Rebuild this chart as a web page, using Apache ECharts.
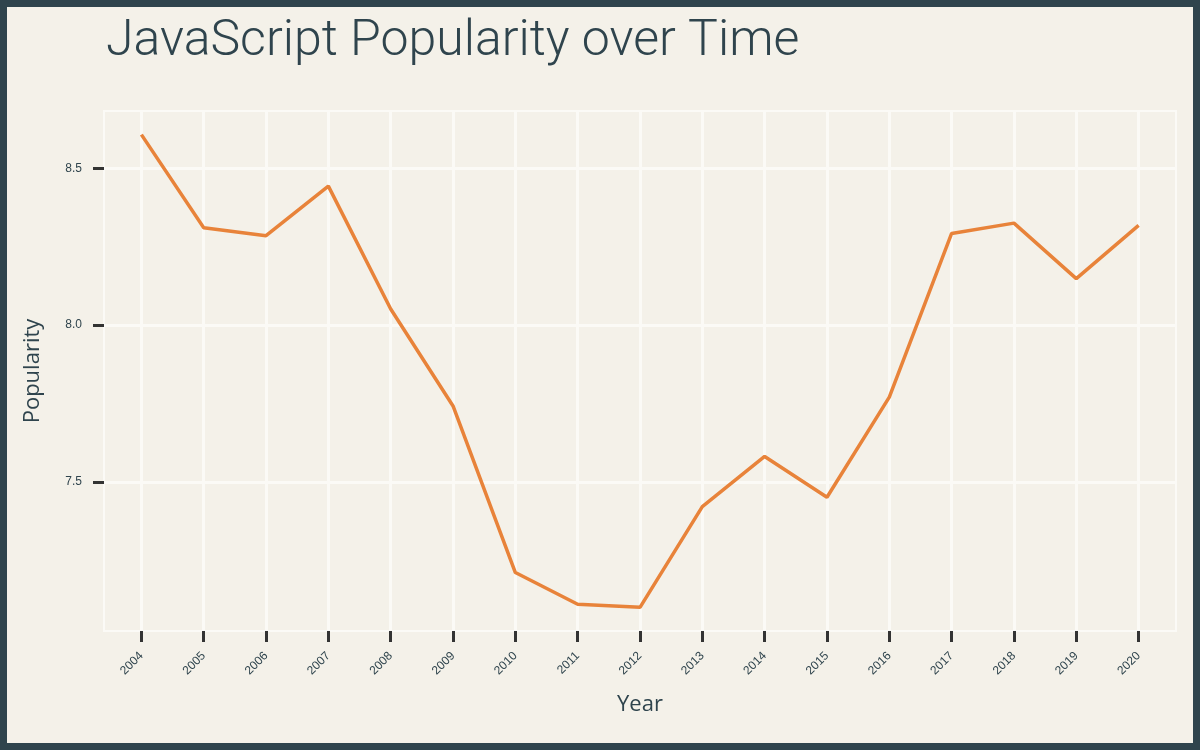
<!DOCTYPE html>
<html>
<head>
<meta charset="utf-8">
<script src="https://cdn.jsdelivr.net/npm/echarts@6/dist/echarts.min.js"></script>
<style>
  html, body { margin: 0; padding: 0; background: #f4f1e9; }
  #wrap { position: relative; width: 1200px; height: 750px; }
  #chart { position: absolute; left: 0; top: 0; width: 1200px; height: 750px; }
  #frame { position: absolute; left: 0; top: 0; width: 1200px; height: 750px; box-sizing: border-box; border: 7px solid #2f444d; pointer-events: none; }
</style>
</head>
<body>
<div id="wrap"><div id="chart"></div><div id="frame"></div></div>
<script>
const years = [2004, 2005, 2006, 2007, 2008, 2009, 2010, 2011, 2012, 2013, 2014, 2015, 2016, 2017, 2018, 2019, 2020];
const popularity = [8.607, 8.310, 8.285, 8.443, 8.051, 7.742, 7.211, 7.110, 7.100, 7.421, 7.581, 7.451, 7.770, 8.292, 8.325, 8.148, 8.318];
const yTicks = [7.5, 8.0, 8.5];
const titleText = 'JavaScript Popularity over Time';
const xName = 'Year';
const yName = 'Popularity';

const textColor = '#2f444d';
const gridLine = '#fbfaf6';

const chart = echarts.init(document.getElementById('chart'));
chart.setOption({
  backgroundColor: '#f4f1e9',
  animation: false,
  title: {
    text: titleText,
    left: 101,
    top: 12,
    textStyle: { fontFamily: 'Roboto', fontWeight: 300, fontSize: 50, color: textColor }
  },
  grid: {
    left: 104, right: 24, top: 111, bottom: 119,
    show: true, backgroundColor: '#f4f1e9', borderColor: gridLine, borderWidth: 2
  },
  xAxis: {
    type: 'value',
    min: 2003.4, max: 2020.6,
    name: xName, nameLocation: 'middle', nameGap: 63,
    nameTextStyle: { fontFamily: 'Open Sans', fontSize: 22, color: textColor },
    axisLine: { show: false },
    axisTick: { show: true, customValues: years, length: 11, lineStyle: { color: '#333333', width: 3 } },
    axisLabel: { customValues: years, rotate: 45, fontSize: 12, color: textColor, margin: 23, fontFamily: 'Liberation Sans', formatter: v => String(v) },
    splitLine: { show: true, lineStyle: { color: gridLine, width: 3 } }
  },
  yAxis: {
    type: 'value',
    min: 7.0246, max: 8.6824,
    name: yName, nameLocation: 'middle', nameGap: 60,
    nameTextStyle: { fontFamily: 'Open Sans', fontSize: 22, color: textColor },
    axisLine: { show: false },
    axisTick: { show: true, customValues: yTicks, length: 11, lineStyle: { color: '#333333', width: 3 } },
    axisLabel: { customValues: yTicks, fontSize: 12, color: textColor, margin: 22, fontFamily: 'Liberation Sans', formatter: v => v.toFixed(1) },
    splitLine: { show: true, lineStyle: { color: gridLine, width: 3 } }
  },
  series: [{
    type: 'line',
    data: years.map((y, i) => [y, popularity[i]]),
    showSymbol: false,
    symbol: 'none',
    lineStyle: { color: '#e8833a', width: 3.5 }
  }]
});
</script>
</body>
</html>
